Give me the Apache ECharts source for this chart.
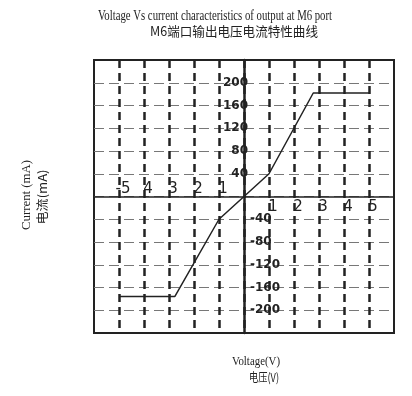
<!DOCTYPE html>
<html>
<head>
<meta charset="utf-8">
<script src="https://cdn.jsdelivr.net/npm/echarts@6/dist/echarts.min.js"></script>
<style>
html,body{margin:0;padding:0;background:#fff}
#chart{width:412px;height:396px}
</style>
</head>
<body>
<div id="chart"></div>
<script>
// curve (V, mA)
var voltage = [-5, -2.77, -1, 0, 1, 2.77, 5];
var current = [-176, -176, -40, 0, 40, 182, 182];

// tick labels as they appear on the scan
var voltTicksRight = [1, 2, 3, 4, 5];
var voltLabelsRight = ['1', '2', '3', '4', '5'];
var voltTicksLeft = [-5, -4, -3, -2, -1];
var voltLabelsLeft = ['-5', '4', '3', '2', '1'];
var currTicksUp = [40, 80, 120, 160, 200];
var currLabelsUp = ['40', '80', '120', '160', '200'];
var currTicksDown = [-40, -80, -120, -160, -200];
var currLabelsDown = ['-40', '-80', '-120', '-160', '-200'];

var titleLines = ['Voltage Vs current characteristics of output at M6 port', 'M6端口输出电压电流特性曲线'];
var yNames = ['Current (mA)', '电流(mA)'];
var xNames = ['Voltage(V)', '电压(V)'];

function pick(ticks, labels) {
    return function (v) {
        var i = ticks.indexOf(v);
        return i < 0 ? '' : labels[i];
    };
}

// the scan squashes its text sideways, so squeeze text to a given width
var mctx = document.createElement('canvas').getContext('2d');
function txt(text, font, cx, cy, width, rot) {
    mctx.font = font;
    var s = width / mctx.measureText(text).width;
    return {
        type: 'text', x: cx, y: cy, rotation: rot || 0, scaleX: s, silent: true,
        style: {text: text, font: font, fill: '#222', textAlign: 'center', textVerticalAlign: 'middle'}
    };
}

var serif = '"Liberation Serif", serif';
var cjk = '"Noto Sans CJK SC", sans-serif';

// plot box; axes cross in the middle, so shift them in by half the box
var gridBox = {left: 94, right: 18, top: 60, bottom: 63};
var boxW = 412 - gridBox.left - gridBox.right;
var boxH = 396 - gridBox.top - gridBox.bottom;

var myChart = echarts.init(document.getElementById('chart'));
var option = {
    backgroundColor: '#fff',
    animation: false,
    grid: {
        left: gridBox.left, right: gridBox.right, top: gridBox.top, bottom: gridBox.bottom,
        outerBoundsMode: 'none',
        show: true, borderColor: '#222', borderWidth: 2
    },
    graphic: [
        txt(titleLines[0], '14px ' + serif, 215, 16, 234),
        txt(titleLines[1], '13px ' + cjk, 234, 31, 168),
        txt(yNames[0], '13px ' + serif, 27, 195, 70, Math.PI / 2),
        txt(yNames[1], '12px ' + cjk, 42, 197, 55, Math.PI / 2),
        txt(xNames[0], '13px ' + serif, 256, 362, 48),
        txt(xNames[1], '12px ' + cjk, 264, 377, 30)
    ],
    xAxis: [{
        type: 'value', min: -6, max: 6, interval: 1, position: 'bottom', offset: -boxH / 2,
        axisLine: {onZero: false, lineStyle: {color: '#222', width: 1.5}},
        axisTick: {show: false},
        splitLine: {
            show: true, showMinLine: false, showMaxLine: false,
            lineStyle: {color: '#222', width: 2.5, type: [8, 5]}
        },
        axisLabel: {
            margin: 3, color: '#222', fontFamily: 'DejaVu Sans', fontSize: 15,
            padding: [0, 0, 0, 8],
            formatter: pick(voltTicksRight, voltLabelsRight)
        }
    }, {
        type: 'value', min: -6, max: 6, interval: 1, position: 'top', offset: -boxH / 2,
        axisLine: {show: false, onZero: false},
        axisTick: {show: false},
        splitLine: {show: false},
        axisLabel: {
            margin: 0, color: '#222', fontFamily: 'DejaVu Sans', fontSize: 15,
            padding: [0, 0, 0, 8],
            formatter: pick(voltTicksLeft, voltLabelsLeft)
        }
    }],
    yAxis: [{
        type: 'value', min: -240, max: 240, interval: 40, position: 'left', offset: -boxW / 2,
        axisLine: {onZero: false, lineStyle: {color: '#222', width: 2.5}},
        axisTick: {show: false},
        splitLine: {
            show: true, showMinLine: false, showMaxLine: false,
            lineStyle: {color: '#777', width: 1, type: [10, 5]}
        },
        axisLabel: {
            margin: -4, color: '#222', fontFamily: 'DejaVu Sans', fontWeight: 'bold', fontSize: 12,
            formatter: pick(currTicksUp, currLabelsUp)
        }
    }, {
        type: 'value', min: -240, max: 240, interval: 40, position: 'right', offset: -boxW / 2,
        axisLine: {show: false, onZero: false},
        axisTick: {show: false},
        splitLine: {show: false},
        axisLabel: {
            margin: 6, color: '#222', fontFamily: 'DejaVu Sans', fontWeight: 'bold', fontSize: 12,
            formatter: pick(currTicksDown, currLabelsDown)
        }
    }],
    series: [{
        type: 'line',
        xAxisIndex: 0, yAxisIndex: 0,
        data: voltage.map(function (v, i) { return [v, current[i]]; }),
        symbol: 'none',
        lineStyle: {color: '#222', width: 1.5}
    }]
};
myChart.setOption(option);
</script>
</body>
</html>
